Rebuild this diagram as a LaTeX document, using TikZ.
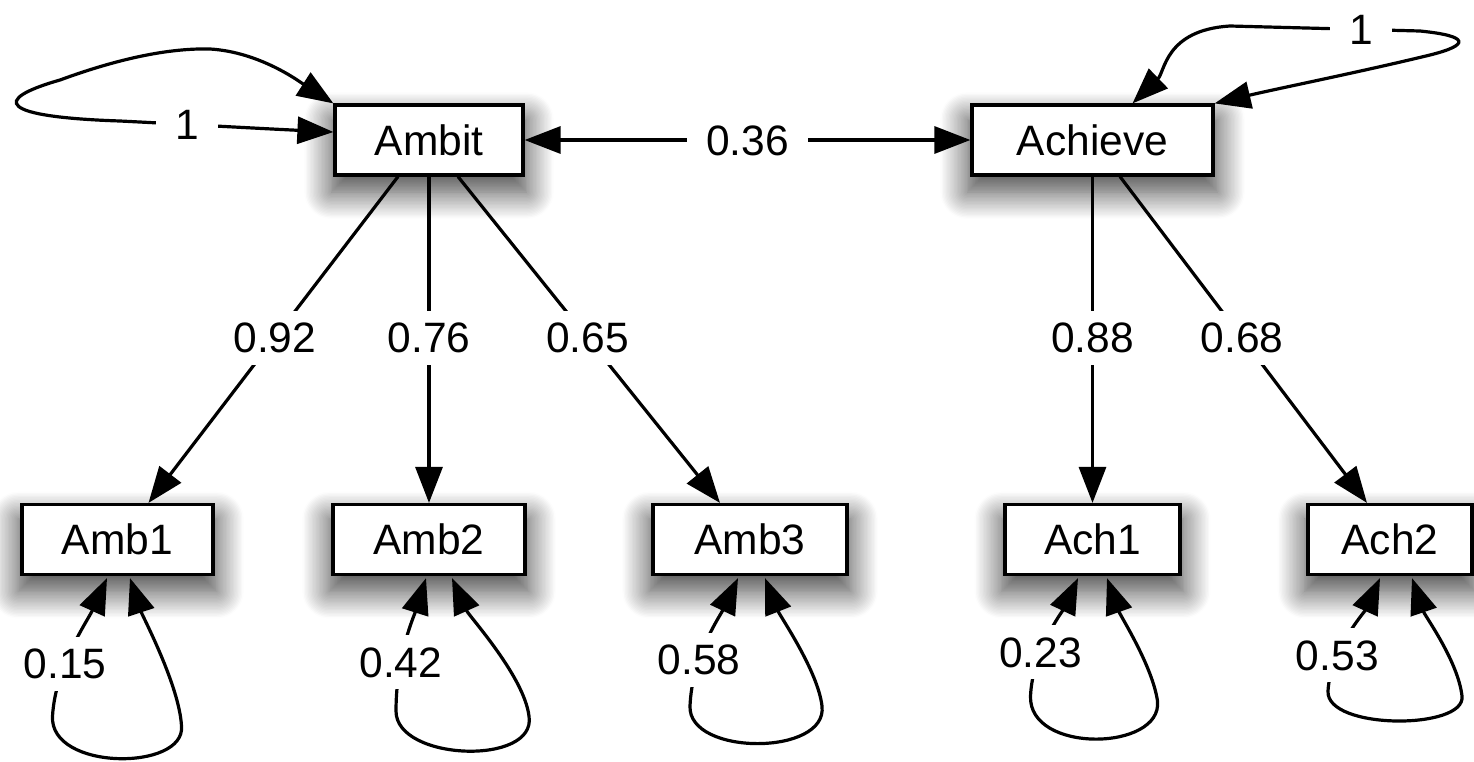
\documentclass[tikz,border=0pt]{standalone}
\usepackage{fontspec}
\setmainfont{Liberation Sans}
\usetikzlibrary{arrows.meta,shadows.blur}

\begin{document}
\begin{tikzpicture}[x=1pt,y=-1pt,line width=3.2pt,
  >={Triangle[length=36pt,width=27pt]},
  varbox/.style={draw,fill=white,line width=3.2pt,minimum height=70pt,inner sep=0pt,
    font=\fontsize{42.5}{50}\selectfont,
    blur shadow={shadow xshift=0pt,shadow yshift=-15pt,shadow scale=1.04,
      shadow blur radius=26pt,shadow blur steps=20,shadow opacity=75}},
  lab/.style={fill=white,inner xsep=19pt,inner ysep=12pt,text height=30pt,text depth=0pt,
    font=\fontsize{42.5}{50}\selectfont}]
\useasboundingbox (0,0) rectangle (1474,761);

% latent factors
\node[varbox,minimum width=188pt] (Ambit)   at (429,140)    {Ambit};
\node[varbox,minimum width=241pt] (Achieve) at (1092.5,140) {Achieve};
% indicators
\node[varbox,minimum width=191pt] (Amb1) at (117.5,539.5)  {Amb1};
\node[varbox,minimum width=192pt] (Amb2) at (429,539.5)    {Amb2};
\node[varbox,minimum width=194pt] (Amb3) at (750,539.5)    {Amb3};
\node[varbox,minimum width=175pt] (Ach1) at (1092.5,539.5) {Ach1};
\node[varbox,minimum width=164pt] (Ach2) at (1390,539.5)   {Ach2};

% factor covariance
\draw[<->] (Ambit.east) -- node[lab]{0.36} (Achieve.west);

% loadings
\draw[->] ([xshift=-31pt]Ambit.south) -- node[lab,pos=0.494]{0.92} ([xshift=31pt]Amb1.north);
\draw[->] (Ambit.south) -- node[lab,pos=0.494]{0.76} (Amb2.north);
\draw[->] ([xshift=29pt]Ambit.south) -- node[lab,pos=0.494]{0.65} ([xshift=-30pt]Amb3.north);
\draw[->] (Achieve.south) -- node[lab,pos=0.494]{0.88} (Ach1.north);
\draw[->] ([xshift=27.5pt]Achieve.south) -- node[lab,pos=0.494]{0.68} ([xshift=-23pt]Ach2.north);

% factor variances
\draw[<->] ([yshift=8pt]Ambit.west) .. controls (250,128) and (180,124) .. (120,121)
  node[lab,pos=0.65]{1}
  .. controls (0,117) and (-10,100) .. (60,80)
  .. controls (120,58) and (170,48) .. (210,49)
  .. controls (260,52) and (300,82) .. (Ambit.north west);
\draw[<->] ([xshift=40pt]Achieve.north) .. controls (1165,72) and (1165,30) .. (1230,26)
  -- (1420,31) node[lab,pos=0.69]{1}
  .. controls (1470,36) and (1470,45) .. (1430,55)
  .. controls (1360,72) and (1280,88) .. (Achieve.north east);

% residual variances
\begin{scope}[shift={(Amb1.south)}]
\draw[<->] ([xshift=-10.5pt,yshift=-2pt]Amb1.south) .. controls (-30,45) and (-62,90) .. (-65,140)
  node[lab,pos=0.64]{0.15}
  .. controls (-68,195) and (68,195) .. (64,150)
  .. controls (62,110) and (25,40) .. ([xshift=12.5pt,yshift=-2pt]Amb1.south);
\end{scope}
\begin{scope}[shift={(Amb2.south)}]
\draw[<->] ([xshift=-3pt,yshift=-2pt]Amb2.south) .. controls (-15,40) and (-33,80) .. (-33,135)
  node[lab,pos=0.68]{0.42}
  .. controls (-33,185) and (108,190) .. (100,140)
  .. controls (95,100) and (40,40) .. ([xshift=23pt,yshift=-2pt]Amb2.south);
\end{scope}
\begin{scope}[shift={(Amb3.south)}]
\draw[<->] ([xshift=-12pt,yshift=-2pt]Amb3.south) .. controls (-30,40) and (-58,80) .. (-60,130)
  node[lab,pos=0.67]{0.58}
  .. controls (-62,180) and (78,180) .. (72,130)
  .. controls (68,95) and (30,40) .. ([xshift=15pt,yshift=-2pt]Amb3.south);
\end{scope}
\begin{scope}[shift={(Ach1.south)}]
\draw[<->] ([xshift=-14.5pt,yshift=-2pt]Ach1.south) .. controls (-30,35) and (-60,75) .. (-62,120)
  node[lab,pos=0.66]{0.23}
  .. controls (-64,178) and (70,175) .. (65,125)
  .. controls (60,90) and (28,40) .. ([xshift=14.5pt,yshift=-2pt]Ach1.south);
\end{scope}
\begin{scope}[shift={(Ach2.south)}]
\draw[<->] ([xshift=-10pt,yshift=-2pt]Ach2.south) .. controls (-25,35) and (-60,75) .. (-62,115)
  node[lab,pos=0.7]{0.53}
  .. controls (-64,154) and (76,154) .. (72,120)
  .. controls (68,85) and (35,40) .. ([xshift=22pt,yshift=-2pt]Ach2.south);
\end{scope}
\end{tikzpicture}
\end{document}
